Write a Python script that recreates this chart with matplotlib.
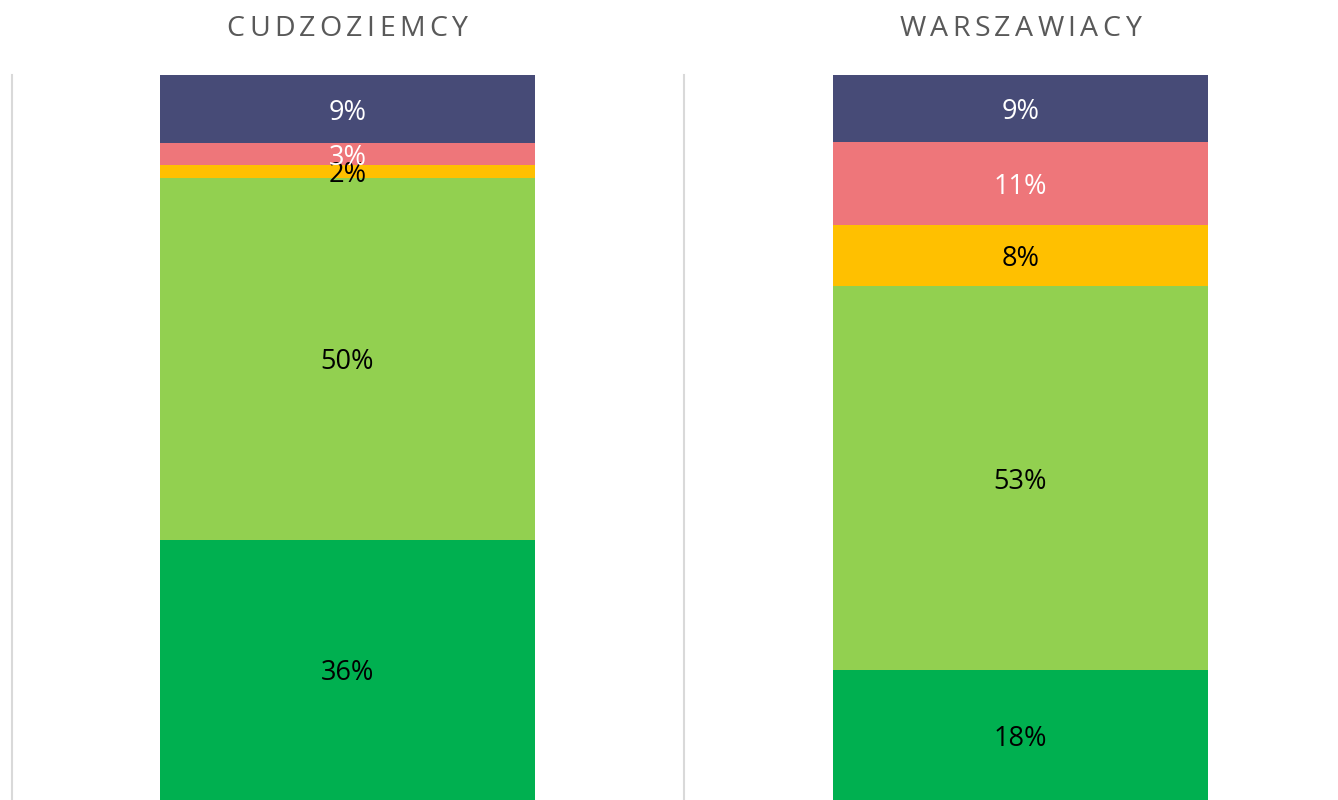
import matplotlib
matplotlib.use("Agg")
import matplotlib.pyplot as plt
from matplotlib.font_manager import FontProperties, findfont, get_font

# ---- data ----
groups = ["CUDZOZIEMCY", "WARSZAWIACY"]
categories = ["s1", "s2", "s3", "s4", "s5"]  # bottom -> top
values_cudz = [35.9, 49.9, 1.8, 3.0, 9.4]
values_wars = [17.9, 53.0, 8.4, 11.4, 9.3]
labels_cudz = ["36%", "50%", "2%", "3%", "9%"]
labels_wars = ["18%", "53%", "8%", "11%", "9%"]

colors = ["#00B050", "#92D050", "#FFC000", "#EE767A", "#474B77"]
label_colors = ["black", "black", "black", "white", "white"]

W, H = 1338, 800
fig = plt.figure(figsize=(W / 100, H / 100), dpi=100)
FONT = "Open Sans"

panels = [
    (12, 683, 347.5, values_cudz, labels_cudz, 347),
    (684, 1338, 1020.5, values_wars, labels_wars, 1020),
]
top_px, bot_px = 75, 800
bar_w = 375

def spaced_title(text, cx, cy_px, size, tracking):
    fp = FontProperties(family=FONT, size=size)
    font = get_font(findfont(fp))
    font.set_size(size, 100)
    widths = []
    for ch in text:
        g = font.load_char(ord(ch))
        widths.append(g.linearHoriAdvance / 65536.0)
    total = sum(widths) + tracking * (len(text) - 1)
    x = cx - total / 2
    for ch, w in zip(text, widths):
        fig.text((x + w / 2) / W, 1 - cy_px / H, ch, fontsize=size, family=FONT,
                 color="#595959", ha="center", va="center_baseline")
        x += w + tracking

for (l, r, c, vals, labs, tc), title in zip(panels, groups):
    ax = fig.add_axes([l / W, 1 - bot_px / H, (r - l) / W, (bot_px - top_px) / H])
    ax.set_xlim(l - c, r - c)
    ax.set_ylim(0, 100)
    bottom = 0
    for v, lab, col, lc in zip(vals, labs, colors, label_colors):
        ax.bar(0, v, width=bar_w, bottom=bottom, color=col, edgecolor="none")
        ax.text(0, bottom + v / 2, lab, ha="center", va="center_baseline",
                fontsize=19.5, family=FONT, color=lc)
        bottom += v
    for s in ["top", "right", "bottom"]:
        ax.spines[s].set_visible(False)
    ax.spines["left"].set_color("#D9D9D9")
    ax.spines["left"].set_linewidth(1.5)
    ax.set_xticks([])
    ax.set_yticks([])
    ax.patch.set_alpha(0)
    spaced_title(title, tc, 26, 20.5, 4.3)

fig.savefig("out.png", dpi=100)
